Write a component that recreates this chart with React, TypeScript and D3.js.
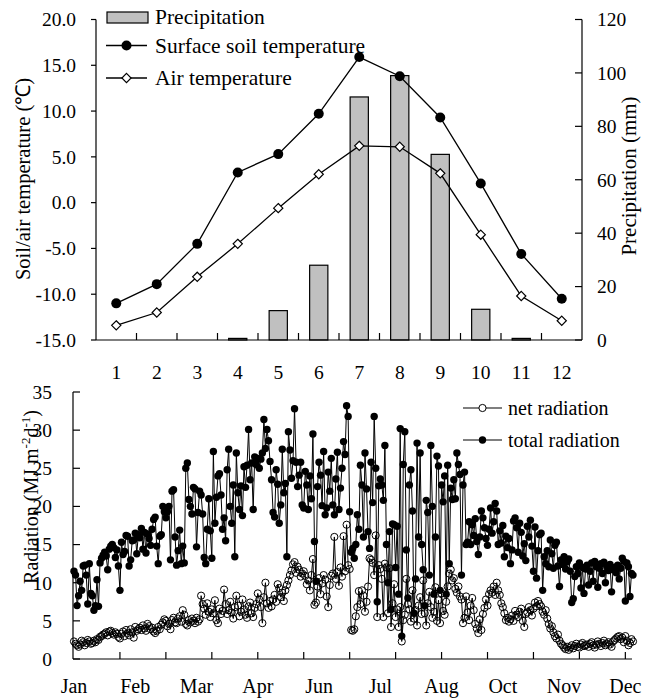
import React from 'react';
import * as d3 from 'd3';

// ---------- Top chart data ----------
const months = ['1', '2', '3', '4', '5', '6', '7', '8', '9', '10', '11', '12'];
const precipitation = [0, 0, 0, 0.6, 11, 28, 91, 99, 69.5, 11.5, 0.6, 0];
const soilTemp = [-11.0, -8.9, -4.5, 3.3, 5.3, 9.7, 15.9, 13.8, 9.3, 2.1, -5.6, -10.5];
const airTemp = [-13.4, -12.0, -8.1, -4.5, -0.6, 3.1, 6.2, 6.1, 3.2, -3.5, -10.2, -12.9];
const leftTicks = [-15, -10, -5, 0, 5, 10, 15, 20];
const rightTicks = [0, 20, 40, 60, 80, 100, 120];

// ---------- Bottom chart data (daily, leap year, 366 days) ----------
const totalJan = [11.5, 11.0, 7.0, 8.3, 10.2, 9.0, 12.2, 12.3, 11.0, 7.2, 12.5, 8.6, 8.3, 6.4, 7.0, 10.4, 6.9, 12.6, 13.2, 13.6, 14.0, 13.5, 11.7, 14.4, 14.8, 15.0, 14.6, 13.3, 14.3, 12.2, 9.0];
const totalFeb = [15.3, 13.7, 14.1, 16.2, 16.1, 12.2, 13.0, 15.5, 15.6, 16.5, 13.8, 16.3, 15.9, 17.1, 14.4, 16.6, 13.9, 16.4, 15.8, 14.9, 17.0, 18.3, 18.6, 14.8, 12.5, 16.1, 16.3, 20.0, 19.3];
const totalMar = [18.5, 19.3, 20.0, 13.0, 22.0, 22.2, 16.0, 12.3, 14.2, 16.9, 12.5, 14.8, 12.6, 25.0, 25.7, 20.9, 20.0, 19.0, 22.5, 22.3, 14.7, 19.2, 22.0, 21.5, 19.0, 13.3, 12.5, 17.0, 21.0, 16.8, 13.2];
const totalApr = [27.2, 17.8, 21.2, 24.0, 24.3, 21.5, 17.0, 18.5, 15.5, 24.8, 27.5, 20.0, 17.8, 22.8, 13.4, 27.0, 21.8, 19.6, 22.7, 18.8, 25.2, 22.5, 25.4, 30.1, 23.5, 25.7, 19.6, 26.5, 25.5, 26.3];
const totalMay = [25.0, 26.2, 27.0, 31.4, 27.6, 30.1, 28.6, 25.9, 23.5, 19.2, 18.6, 24.8, 22.9, 17.8, 20.2, 27.5, 21.8, 23.0, 13.4, 29.8, 27.4, 23.7, 26.0, 32.8, 25.8, 22.6, 24.1, 25.8, 20.2, 19.8, 24.6];
const totalJun = [22.8, 19.6, 24.0, 21.0, 29.5, 15.4, 10.2, 22.6, 25.8, 24.1, 20.1, 27.2, 18.9, 19.8, 24.5, 22.0, 26.3, 20.2, 18.9, 23.6, 27.1, 19.6, 22.4, 25.0, 28.5, 26.8, 33.2, 31.8, 19.3, 14.0];
const totalJul = [14.5, 13.2, 15.0, 18.9, 17.0, 25.4, 22.8, 16.0, 27.0, 22.3, 16.7, 14.5, 25.8, 20.5, 31.8, 25.0, 7.5, 22.7, 23.6, 22.8, 20.8, 28.0, 15.0, 10.0, 16.7, 6.5, 17.7, 17.6, 12.0, 17.4, 8.5];
const totalAug = [30.2, 3.0, 25.5, 29.8, 14.3, 8.0, 22.8, 24.8, 19.4, 6.0, 10.5, 28.3, 16.0, 27.0, 15.0, 11.7, 7.0, 20.8, 19.2, 11.0, 28.0, 20.0, 8.5, 16.0, 26.6, 25.3, 9.0, 22.8, 20.6, 24.0, 8.5];
const totalSep = [25.4, 12.5, 22.4, 20.9, 23.5, 21.0, 27.0, 25.5, 24.2, 11.0, 22.8, 24.5, 15.0, 15.3, 18.0, 15.0, 17.6, 16.2, 18.4, 15.4, 13.7, 16.0, 19.4, 18.5, 17.2, 15.8, 14.9, 17.0, 19.8, 16.5];
const totalOct = [18.0, 20.4, 19.4, 15.0, 16.8, 15.2, 17.5, 13.4, 16.1, 14.6, 15.8, 12.5, 14.3, 18.1, 18.5, 17.2, 14.0, 17.8, 16.6, 13.5, 15.1, 12.9, 17.4, 16.0, 18.2, 14.8, 11.5, 17.3, 10.6, 14.2, 16.3];
const totalNov = [16.5, 9.0, 13.4, 12.5, 14.2, 12.1, 15.6, 13.8, 11.9, 14.9, 15.3, 12.2, 9.5, 13.0, 12.4, 13.4, 11.8, 12.7, 13.1, 11.5, 7.4, 7.9, 10.8, 12.1, 11.2, 12.6, 9.3, 12.0, 8.6, 11.8];
const totalDec = [12.3, 9.7, 11.5, 12.6, 10.2, 12.8, 12.1, 9.4, 11.9, 12.5, 11.2, 12.7, 10.0, 12.2, 11.6, 12.4, 8.8, 11.7, 12.0, 11.3, 12.3, 10.5, 11.9, 13.2, 12.8, 7.6, 12.6, 12.1, 8.2, 11.2, 11.0];

const netJan = [2.3, 2.0, 1.8, 1.6, 1.9, 2.4, 2.2, 1.8, 2.1, 2.5, 2.3, 2.0, 2.1, 2.4, 2.2, 2.6, 2.5, 2.9, 3.0, 3.2, 3.3, 3.5, 3.1, 3.6, 3.7, 3.4, 3.2, 3.5, 3.3, 2.9, 2.7];
const netFeb = [3.3, 3.6, 3.0, 3.8, 3.4, 3.1, 3.9, 3.5, 2.8, 4.2, 3.7, 3.9, 4.1, 3.8, 4.4, 4.0, 3.7, 4.6, 4.3, 3.9, 4.1, 3.6, 3.4, 3.7, 4.2, 3.9, 4.5, 4.8, 5.2];
const netMar = [5.0, 4.3, 4.6, 3.9, 5.1, 5.4, 4.8, 4.7, 5.3, 5.6, 4.9, 6.4, 5.8, 4.6, 4.4, 5.1, 4.8, 5.3, 5.0, 4.7, 5.4, 4.9, 5.2, 8.3, 7.2, 6.6, 5.8, 7.3, 6.2, 5.5, 6.5];
const netApr = [6.0, 7.7, 5.1, 4.7, 6.6, 5.9, 6.3, 9.1, 7.2, 5.9, 6.4, 7.5, 6.1, 5.3, 6.8, 8.3, 7.0, 5.6, 6.2, 7.8, 6.5, 5.8, 5.4, 6.9, 7.4, 6.0, 5.5, 6.7, 7.2, 8.6];
const netMay = [7.8, 6.8, 4.7, 8.1, 10.0, 7.3, 6.7, 7.6, 6.9, 7.8, 8.4, 7.5, 9.8, 9.3, 8.1, 8.7, 7.6, 9.0, 9.7, 10.3, 11.0, 11.6, 12.4, 12.7, 11.3, 12.1, 11.7, 10.8, 11.2, 11.5, 10.9];
const netJun = [9.8, 10.3, 9.0, 11.0, 13.1, 7.1, 7.4, 9.5, 10.6, 8.5, 9.9, 11.0, 10.4, 8.2, 6.8, 9.7, 10.9, 11.2, 16.0, 10.5, 11.4, 9.6, 12.0, 10.8, 16.1, 11.5, 17.6, 12.3, 11.8, 3.8];
const netJul = [3.7, 3.9, 5.6, 6.8, 8.9, 7.2, 9.0, 8.3, 6.2, 7.5, 9.5, 13.2, 13.0, 12.6, 11.0, 16.2, 5.5, 12.3, 11.8, 10.5, 5.5, 12.5, 12.0, 6.0, 11.9, 4.2, 7.3, 9.8, 5.5, 6.5, 4.2];
const netAug = [6.8, 2.3, 5.1, 5.8, 10.5, 7.2, 6.5, 4.9, 9.0, 5.3, 6.4, 4.4, 7.0, 8.1, 5.9, 10.3, 6.0, 4.4, 7.3, 8.8, 6.8, 5.4, 6.2, 9.4, 5.0, 7.7, 4.7, 8.6, 6.3, 5.8, 7.5];
const netSep = [9.5, 11.2, 11.7, 10.3, 10.6, 9.2, 8.7, 9.5, 8.2, 7.8, 4.7, 5.4, 8.2, 6.1, 5.1, 7.0, 8.0, 6.4, 4.6, 4.0, 3.4, 5.2, 3.8, 5.9, 6.7, 7.8, 7.0, 8.5, 9.0, 8.7];
const netOct = [9.5, 8.4, 10.0, 9.0, 8.4, 7.3, 6.8, 6.0, 5.1, 5.4, 4.9, 5.2, 5.7, 5.0, 6.3, 5.8, 5.5, 6.2, 6.6, 5.0, 4.2, 5.9, 6.1, 6.8, 6.4, 5.7, 6.6, 7.4, 6.9, 7.6, 7.2];
const netNov = [6.9, 6.2, 5.8, 6.4, 5.3, 4.6, 4.0, 4.3, 3.5, 3.0, 2.7, 3.2, 2.4, 2.0, 1.8, 1.5, 1.3, 1.6, 1.2, 1.5, 1.8, 1.4, 1.7, 2.0, 1.6, 1.5, 1.9, 2.1, 1.7, 1.8];
const netDec = [1.9, 1.6, 2.0, 2.2, 1.8, 1.5, 1.9, 2.3, 2.0, 1.7, 2.1, 2.4, 1.8, 2.0, 2.2, 1.9, 1.6, 2.3, 2.5, 2.7, 2.9, 3.0, 2.6, 2.8, 2.2, 3.0, 2.4, 1.8, 2.1, 2.6, 2.3];

const totalRadiation = [
  ...totalJan, ...totalFeb, ...totalMar, ...totalApr, ...totalMay, ...totalJun,
  ...totalJul, ...totalAug, ...totalSep, ...totalOct, ...totalNov, ...totalDec,
];
const netRadiation = [
  ...netJan, ...netFeb, ...netMar, ...netApr, ...netMay, ...netJun,
  ...netJul, ...netAug, ...netSep, ...netOct, ...netNov, ...netDec,
];
const radTicks = [0, 5, 10, 15, 20, 25, 30, 35];
const dayTickMarks = [30, 60, 90, 120, 150, 180, 210, 240, 270, 300, 330, 360];
const dateLabels = ['Jan', 'Feb', 'Mar', 'Apr', 'Jun', 'Jul', 'Aug', 'Oct', 'Nov', 'Dec'];
const dateLabelDays = [0, 40, 80, 120, 160, 200, 240, 280, 320, 360];

const FONT = "'Liberation Serif', serif";

export default function App() {
  const x = d3.scaleBand<string>().domain(months).range([96, 582]).paddingInner(0).paddingOuter(0);
  const yL = d3.scaleLinear().domain([-15, 20]).range([340, 19.5]);
  const yR = d3.scaleLinear().domain([0, 120]).range([340, 19.5]);
  const cx = (m: string) => (x(m) as number) + x.bandwidth() / 2;
  const barW = x.bandwidth() * 0.45;

  const tempLine = d3
    .line<number>()
    .x((_, i) => cx(months[i]))
    .y((d) => yL(d));

  const xd = d3.scaleLinear().domain([0, 365]).range([74, 633]);
  const yr = d3.scaleLinear().domain([0, 35]).range([659, 392]);
  const radLine = d3
    .line<number>()
    .x((_, i) => xd(i))
    .y((d) => yr(d));

  const diamond = (px: number, py: number, r = 4.6) =>
    `M${px},${py - r}L${px + r},${py}L${px},${py + r}L${px - r},${py}Z`;

  const ts = { fontFamily: FONT } as React.CSSProperties;

  return (
    <svg
      width={653}
      height={699}
      style={{ position: 'absolute', left: 0, top: 0, background: '#fff', fontFamily: FONT }}
    >
      <rect x={0} y={0} width={653} height={699} fill="#fff" />

      {/* ================= TOP CHART ================= */}
      {precipitation.map((p, i) => (
        <rect
          key={'b' + i}
          x={cx(months[i]) - barW / 2}
          y={yR(p)}
          width={barW}
          height={Math.max(0, yR(0) - yR(p))}
          fill="#c0c0c0"
          stroke="#000"
          strokeWidth={1.2}
        />
      ))}

      <line x1={96} y1={19.5} x2={96} y2={340} stroke="#000" strokeWidth={1.2} />
      <line x1={582} y1={19.5} x2={582} y2={340} stroke="#000" strokeWidth={1.2} />
      <line x1={96} y1={340} x2={582} y2={340} stroke="#000" strokeWidth={1.2} />
      {leftTicks.map((t) => (
        <g key={'lt' + t}>
          <line x1={91} x2={96} y1={yL(t)} y2={yL(t)} stroke="#000" strokeWidth={1.2} />
          <text style={ts} x={76} y={yL(t)} dy="0.35em" textAnchor="end" fontSize={19.5}>
            {t.toFixed(1)}
          </text>
        </g>
      ))}
      {rightTicks.map((t) => (
        <g key={'rt' + t}>
          <line x1={575} x2={582} y1={yR(t)} y2={yR(t)} stroke="#000" strokeWidth={1.2} />
          <text style={ts} x={597} y={yR(t)} dy="0.35em" textAnchor="start" fontSize={19.5}>
            {t}
          </text>
        </g>
      ))}
      {months.slice(1).map((m) => (
        <line
          key={'xt' + m}
          x1={x(m) as number}
          x2={x(m) as number}
          y1={333}
          y2={340}
          stroke="#000"
          strokeWidth={1.2}
        />
      ))}
      {months.map((m) => (
        <text style={ts} key={'xl' + m} x={cx(m)} y={379} textAnchor="middle" fontSize={19.5}>
          {m}
        </text>
      ))}

      <path d={tempLine(soilTemp) || ''} fill="none" stroke="#000" strokeWidth={1.3} />
      <path d={tempLine(airTemp) || ''} fill="none" stroke="#000" strokeWidth={1.3} />
      {soilTemp.map((v, i) => (
        <circle key={'s' + i} cx={cx(months[i])} cy={yL(v)} r={5} fill="#000" />
      ))}
      {airTemp.map((v, i) => (
        <path key={'a' + i} d={diamond(cx(months[i]), yL(v))} fill="#fff" stroke="#000" strokeWidth={1.2} />
      ))}

      <text style={ts} transform="translate(23,179) rotate(-90)" textAnchor="middle" dy="0.35em" fontSize={20.5}>
        Soil/air temperature (℃)
      </text>
      <text style={ts} transform="translate(629,176) rotate(-90)" textAnchor="middle" dy="0.35em" fontSize={21}>
        Precipitation (mm)
      </text>

      <rect x={107} y={12} width={41} height={11} fill="#c0c0c0" stroke="#000" strokeWidth={1.2} />
      <text style={ts} x={155} y={24} fontSize={21.5}>Precipitation</text>
      <line x1={106} x2={147} y1={45.5} y2={45.5} stroke="#000" strokeWidth={1.3} />
      <circle cx={126.5} cy={45.5} r={5} fill="#000" />
      <text style={ts} x={155} y={52.5} fontSize={21.5}>Surface soil temperature</text>
      <line x1={106} x2={147} y1={78} y2={78} stroke="#000" strokeWidth={1.3} />
      <path d={diamond(126.5, 78)} fill="#fff" stroke="#000" strokeWidth={1.2} />
      <text style={ts} x={155} y={85} fontSize={21.5}>Air temperature</text>

      {/* ================= BOTTOM CHART ================= */}
      <path d={radLine(netRadiation) || ''} fill="none" stroke="#000" strokeWidth={1} />
      {netRadiation.map((v, i) => (
        <circle key={'n' + i} cx={xd(i)} cy={yr(v)} r={3.6} fill="none" stroke="#000" strokeWidth={1} />
      ))}
      <path d={radLine(totalRadiation) || ''} fill="none" stroke="#000" strokeWidth={1} />
      {totalRadiation.map((v, i) => (
        <circle key={'t' + i} cx={xd(i)} cy={yr(v)} r={3.7} fill="#000" />
      ))}

      <line x1={73} y1={392} x2={73} y2={659} stroke="#000" strokeWidth={1.2} />
      <line x1={73} y1={659} x2={632} y2={659} stroke="#000" strokeWidth={1.2} />
      {radTicks.map((t) => (
        <g key={'ry' + t}>
          <line x1={73} x2={80} y1={yr(t)} y2={yr(t)} stroke="#000" strokeWidth={1.2} />
          <text style={ts} x={52} y={yr(t)} dy="0.35em" textAnchor="end" fontSize={19.5}>
            {t}
          </text>
        </g>
      ))}
      {dayTickMarks.map((d) => (
        <line key={'dt' + d} x1={xd(d)} x2={xd(d)} y1={652} y2={659} stroke="#000" strokeWidth={1.2} />
      ))}
      {dateLabels.map((lab, i) => (
        <text style={ts} key={'dl' + lab} x={xd(dateLabelDays[i])} y={693} textAnchor="middle" fontSize={20}>
          {lab}
        </text>
      ))}

      <text style={ts} transform="translate(31,497) rotate(-90)" textAnchor="middle" dy="0.35em" fontSize={20}>
        Radiation (MJ m<tspan dy={-8} fontSize={13}>-2</tspan>
        <tspan dy={8}>d</tspan>
        <tspan dy={-8} fontSize={13}>-1</tspan>
        <tspan dy={8}>)</tspan>
      </text>

      <line x1={463} x2={502} y1={408} y2={408} stroke="#000" strokeWidth={1.2} />
      <circle cx={482.5} cy={408} r={3.6} fill="#fff" stroke="#000" strokeWidth={1} />
      <text style={ts} x={508} y={415} fontSize={20}>net radiation</text>
      <line x1={463} x2={502} y1={440} y2={440} stroke="#000" strokeWidth={1.2} />
      <circle cx={482.5} cy={440} r={3.7} fill="#000" />
      <text style={ts} x={508} y={447} fontSize={20}>total radiation</text>
    </svg>
  );
}
